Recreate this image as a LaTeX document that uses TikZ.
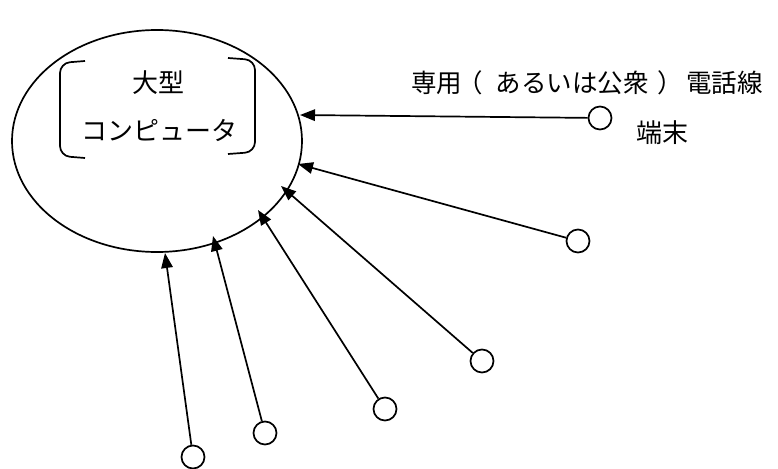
\documentclass[tikz,border=0pt]{standalone}
\usepackage{fontspec}
\setmainfont{Noto Sans CJK JP}
\usetikzlibrary{arrows.meta,shapes.geometric}
\begin{document}
\begin{tikzpicture}[x=1pt,y=-1pt,
  ln/.style={line width=1.7pt},
  arr/.style={ln,-{Triangle[length=15pt,width=11.5pt]}},
  term/.style={circle,draw,line width=1.7pt,minimum size=23pt,inner sep=0pt},
  txt/.style={inner sep=0pt,font=\fontsize{26}{30}\selectfont},
  lbltxt/.style={inner sep=0pt,font=\fontsize{25.5}{30}\selectfont}]
\useasboundingbox (0,0) rectangle (778,468);
\node[ellipse,draw,ln,minimum width=290pt,minimum height=222pt,inner sep=0pt] (ell) at (157,141) {};
\node[txt] (toogata) at (158,83) {大型};
\node[txt] (tcomp) at (159,130) {コンピュータ};
\draw[ln,rounded corners=10pt] (85,61) -- (60,63) -- (60,156) -- (85,158);
\draw[ln,rounded corners=10pt] (228,58) -- (255,60) -- (255,152) -- (228,154);
\node[lbltxt,anchor=west] (lbl) at (411,83) {専用\hspace{-5pt}（\hspace{13pt}あるいは公衆\hspace{9pt}）\hspace{3pt}電話線};
\node[txt] (tanmatsu) at (662,133) {端末};
\node[term] (t1) at (600,118) {};
\node[term] (t2) at (578,241) {};
\node[term] (t3) at (482,361) {};
\node[term] (t4) at (385,409) {};
\node[term] (t5) at (265,433) {};
\node[term] (t6) at (193,457) {};
\coordinate (a1) at (300,115);
\coordinate (a2) at (298,164);
\coordinate (a3) at (281,186);
\coordinate (a4) at (258,210);
\coordinate (a5) at (213,236);
\coordinate (a6) at (165,253);
\draw[arr] (t1) -- (a1);
\draw[arr] (t2) -- (a2);
\draw[arr] (t3) -- (a3);
\draw[arr] (t4) -- (a4);
\draw[arr] (t5) -- (a5);
\draw[arr] (t6) -- (a6);
\end{tikzpicture}
\end{document}
